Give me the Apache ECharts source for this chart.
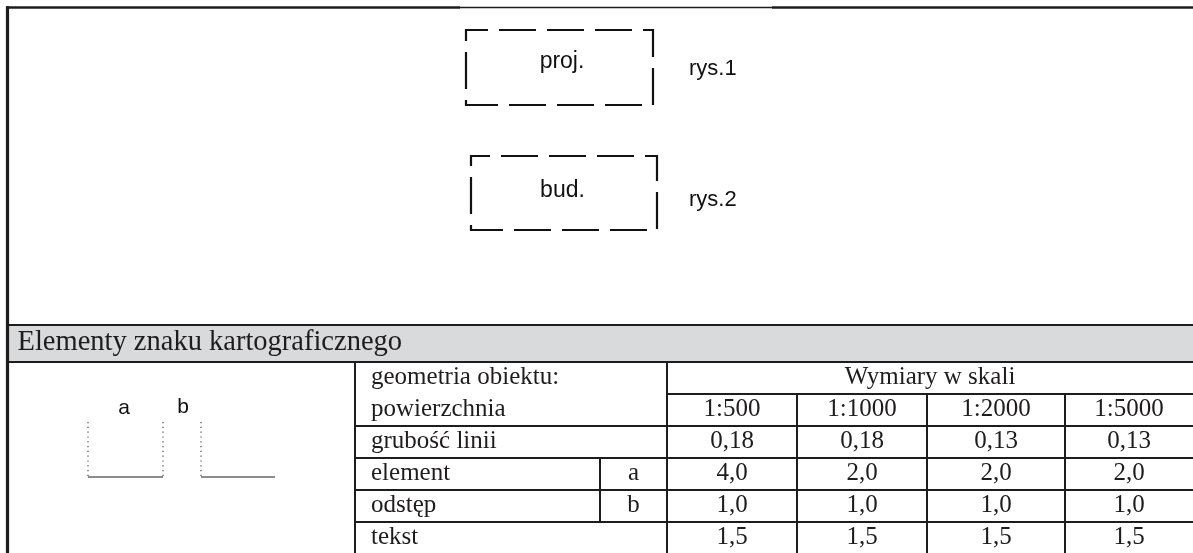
<!DOCTYPE html>
<html><head><meta charset="utf-8">
<script src="https://cdn.jsdelivr.net/npm/echarts@6/dist/echarts.min.js"></script>
<style>html,body{margin:0;padding:0;background:#fff}#c{width:1193px;height:553px}</style>
</head><body><div id="c"></div>
<script>
// ---------------- data ----------------
const scales = ['1:500', '1:1000', '1:2000', '1:5000'];
const lineThickness = [0.18, 0.18, 0.13, 0.13];
const elementA = [4.0, 2.0, 2.0, 2.0];
const gapB = [1.0, 1.0, 1.0, 1.0];
const textSize = [1.5, 1.5, 1.5, 1.5];
const rowLabels = ['geometria obiektu:', 'powierzchnia', 'grubość linii', 'element', 'odstęp', 'tekst'];
const subLabels = ['', '', '', 'a', 'b', ''];
const symbolLabels = ['proj.', 'bud.'];
const figureLabels = ['rys.1', 'rys.2'];
const diagramLabels = ['a', 'b'];
const sectionTitle = 'Elementy znaku kartograficznego';
const headerTitle = 'Wymiary w skali';

// ---------------- layout (positions / styles) ----------------
const W = 1193, H = 553;
const LAYOUT = {
  colX: [355, 600, 667, 797, 927, 1065, 1193],
  rowY: [362, 394, 426, 458, 490, 522, 554],
  band: [325, 362],
  leftX: 7.5,
  topY: 7.5,
  topThin: [460, 772],
  padX: 16,
  symbols: [
    { x: 466, y: 30, w: 187, h: 75, off: 15, tx: 562, ty: 62, fx: 689, fy: 69 },
    { x: 471, y: 156, w: 186, h: 74, off: 18, tx: 562.5, ty: 190.5, fx: 689, fy: 199.5 }
  ],
  diagram: { xs: [88, 163, 201], yTop: 422, yBase: 477, xEnd: 275, labels: [[124, 408], [183, 407]] }
};
const INK = '#1f1c1d';
const SERIF = '"Liberation Serif", "Times New Roman", serif';
const SANS = '"Liberation Sans", Arial, sans-serif';

const fmt = (v, d) => v.toFixed(d).replace('.', ',');

// build table cells from data arrays
const cells = [];
rowLabels.forEach((t, r) => {
  cells.push({ c0: 0, c1: subLabels[r] ? 1 : 2, r, text: t, align: 'left' });
  if (subLabels[r]) cells.push({ c0: 1, c1: 2, r, text: subLabels[r], align: 'center' });
});
cells.push({ c0: 2, c1: 6, r: 0, text: headerTitle, align: 'center' });
scales.forEach((s, j) => cells.push({ c0: 2 + j, c1: 3 + j, r: 1, text: s, align: 'center' }));
[[lineThickness, 2], [elementA, 1], [gapB, 1], [textSize, 1]].forEach(([arr, d], k) => {
  arr.forEach((v, j) => cells.push({ c0: 2 + j, c1: 3 + j, r: 2 + k, text: fmt(v, d), align: 'center' }));
});

function txt(p, text, font, align, fill) {
  return {
    type: 'text', x: p[0], y: p[1],
    style: { text, font, fill: fill || INK, align, verticalAlign: 'middle', textAlign: align, textVerticalAlign: 'middle' }
  };
}
function seg(api, a, b, lw, color, dash) {
  const p = api.coord(a), q = api.coord(b);
  return { type: 'line', shape: { x1: p[0], y1: p[1], x2: q[0], y2: q[1] },
    style: { stroke: color || INK, lineWidth: lw, lineDash: dash || null, fill: null } };
}

const chart = echarts.init(document.getElementById('c'), null, { renderer: 'canvas' });
chart.setOption({
  animation: false,
  backgroundColor: '#ffffff',
  grid: { left: 0, right: 0, top: 0, bottom: 0 },
  xAxis: { type: 'value', min: 0, max: W, show: false },
  yAxis: { type: 'value', min: 0, max: H, inverse: true, show: false },
  series: [
    { // frame, band and table rules
      type: 'custom', clip: false, silent: true, z: 1,
      data: [[0, 0]],
      renderItem(params, api) {
        const L = LAYOUT, cx = L.colX, ry = L.rowY;
        const ch = [];
        const b0 = api.coord([L.leftX, L.band[0]]), b1 = api.coord([W, L.band[1]]);
        ch.push({ type: 'rect', shape: { x: b0[0], y: b0[1], width: b1[0] - b0[0], height: b1[1] - b0[1] },
          style: { fill: '#d9dadc', stroke: null } });
        ch.push(seg(api, [L.leftX - 1.5, L.topY], [L.topThin[0], L.topY], 2.6));
        ch.push(seg(api, [L.topThin[0], L.topY], [L.topThin[1], L.topY], 1.3));
        ch.push(seg(api, [L.topThin[1], L.topY], [W, L.topY], 2.6));
        ch.push(seg(api, [L.leftX, L.topY - 1.3], [L.leftX, H], 3.2));
        ch.push(seg(api, [L.leftX, L.band[0]], [W, L.band[0]], 2.2));
        ch.push(seg(api, [L.leftX, L.band[1]], [W, L.band[1]], 2.2));
        ch.push(seg(api, [cx[2], ry[1]], [W, ry[1]], 2));
        for (let r = 2; r <= 5; r++) ch.push(seg(api, [cx[0], ry[r]], [W, ry[r]], 2));
        ch.push(seg(api, [cx[0], ry[0]], [cx[0], H], 2));
        ch.push(seg(api, [cx[2], ry[0]], [cx[2], H], 2));
        ch.push(seg(api, [cx[1], ry[3]], [cx[1], ry[5]], 2));
        for (let c = 3; c <= 5; c++) ch.push(seg(api, [cx[c], ry[1]], [cx[c], H], 2));
        const tp = api.coord([L.leftX + 10, (L.band[0] + L.band[1]) / 2 - 1]);
        ch.push(txt(tp, sectionTitle, '28.5px ' + SERIF, 'left'));
        return { type: 'group', children: ch };
      }
    },
    { // table cells
      type: 'custom', clip: false, silent: true, z: 2,
      data: cells.map(c => [c.c0, c.c1, c.r]),
      renderItem(params, api) {
        const c = cells[params.dataIndex], L = LAYOUT;
        const x0 = L.colX[c.c0], x1 = L.colX[c.c1];
        const yc = (L.rowY[c.r] + L.rowY[c.r + 1]) / 2 - 1;
        const p = api.coord([c.align === 'left' ? x0 + L.padX : (x0 + x1) / 2, yc]);
        return txt(p, c.text, '25px ' + SERIF, c.align);
      }
    },
    { // dashed map symbols
      type: 'custom', clip: false, silent: true, z: 2,
      data: symbolLabels.map((s, i) => [i]),
      renderItem(params, api) {
        const i = params.dataIndex, s = LAYOUT.symbols[i];
        const p0 = api.coord([s.x, s.y]), p1 = api.coord([s.x + s.w, s.y + s.h]);
        return { type: 'group', children: [
          { type: 'rect', shape: { x: p0[0], y: p0[1], width: p1[0] - p0[0], height: p1[1] - p0[1] },
            style: { fill: null, stroke: '#111', lineWidth: 2.2, lineDash: [37, 11], lineDashOffset: s.off } },
          txt(api.coord([s.tx, s.ty]), symbolLabels[i], '23px ' + SANS, 'center', '#111'),
          txt(api.coord([s.fx, s.fy]), figureLabels[i], '22px ' + SANS, 'left', '#111')
        ] };
      }
    },
    { // element / gap diagram
      type: 'custom', clip: false, silent: true, z: 2,
      data: [[0]],
      renderItem(params, api) {
        const D = LAYOUT.diagram, ch = [];
        D.xs.forEach(x => ch.push(seg(api, [x, D.yTop], [x, D.yBase], 1.3, '#555', [1.2, 3.6])));
        ch.push(seg(api, [D.xs[0], D.yBase], [D.xs[1], D.yBase], 1.5, '#666'));
        ch.push(seg(api, [D.xs[2], D.yBase], [D.xEnd, D.yBase], 1.5, '#666'));
        diagramLabels.forEach((t, k) => ch.push(txt(api.coord(D.labels[k]), t, '21px ' + SANS, 'center', '#111')));
        return { type: 'group', children: ch };
      }
    }
  ]
});
</script>
</body></html>
